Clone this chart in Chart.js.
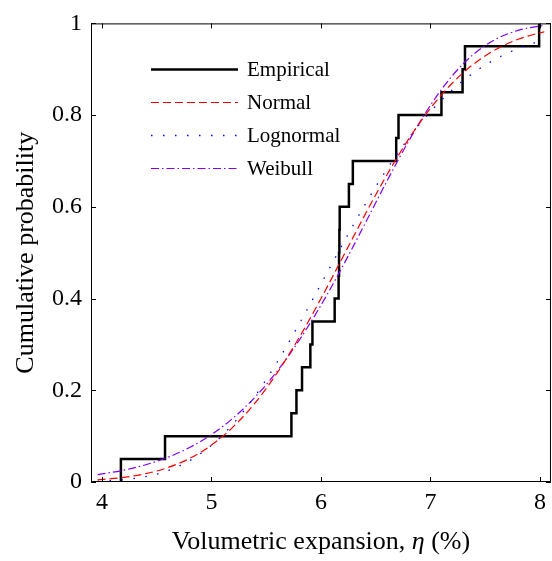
<!DOCTYPE html>
<html>
<head>
<meta charset="utf-8">
<script src="https://cdn.jsdelivr.net/npm/chart.js@4.4.1/dist/chart.umd.min.js"></script>
<style>
  html, body { margin: 0; padding: 0; background: #fff; }
  #wrap { width: 552px; height: 561px; }
</style>
</head>
<body>
<div id="wrap"><canvas id="cdfChart" width="552" height="561"></canvas></div>
<script>
// --- values ---
// empirical CDF: jump positions and the level reached after each jump
const empiricalX = [4.173, 4.173, 4.576, 5.730, 5.776, 5.827, 5.903, 5.922, 6.125, 6.161, 6.165, 6.168, 6.171, 6.255, 6.291, 6.687, 6.708, 7.100, 7.293, 7.315, 7.992];
const empiricalP = [0, 0.05, 0.10, 0.15, 0.20, 0.25, 0.30, 0.35, 0.40, 0.45, 0.50, 0.55, 0.60, 0.65, 0.70, 0.75, 0.80, 0.85, 0.90, 0.95, 1.00];

// fitted curves sampled along x
const fitX = [3.96, 4.2, 4.4, 4.6, 4.8, 5.0, 5.2, 5.4, 5.6, 5.8, 6.0, 6.2, 6.4, 6.6, 6.8, 7.0, 7.2, 7.4, 7.6, 7.8, 8.0, 8.04];
const normalP = [0.0047, 0.0101, 0.0182, 0.0313, 0.0513, 0.0805, 0.1206, 0.1729, 0.2380, 0.3146, 0.4001, 0.4908, 0.5820, 0.6689, 0.7476, 0.8151, 0.8700, 0.9125, 0.9436, 0.9653, 0.9796, 0.9818];
const lognormalP = [0.0014, 0.0049, 0.0117, 0.0245, 0.0465, 0.0802, 0.1274, 0.1883, 0.2615, 0.3442, 0.4317, 0.5195, 0.6041, 0.6815, 0.7496, 0.8076, 0.8552, 0.8934, 0.9229, 0.9453, 0.9617, 0.9645];
const weibullP = [0.0160, 0.0258, 0.0376, 0.0536, 0.0752, 0.1034, 0.1399, 0.1856, 0.2417, 0.3086, 0.3856, 0.4711, 0.5626, 0.6550, 0.7430, 0.8216, 0.8861, 0.9341, 0.9660, 0.9848, 0.9942, 0.9953];

const seriesNames = ['Empirical', 'Normal', 'Lognormal', 'Weibull'];
const xTicks = [4, 5, 6, 7, 8];
const yTicks = [0, 0.2, 0.4, 0.6, 0.8, 1];
const yTickLabels = ['0', '0.2', '0.4', '0.6', '0.8', '1'];
const xTitle = ['Volumetric expansion, ', 'η', ' (%)'];
const yTitle = 'Cumulative probability';

const FONT = '"Liberation Serif", "Times New Roman", serif';
Chart.defaults.font.family = FONT;
Chart.defaults.color = '#000';

function toPoints(xs, ys) { return xs.map((x, i) => ({ x: x, y: ys[i] })); }

// box, inward ticks, legend and axis titles (MATLAB look)
const matlabFrame = {
  id: 'matlabFrame',
  afterDatasetsDraw(chart) {
    const { ctx, chartArea: a, scales: { x, y } } = chart;
    ctx.save();
    ctx.strokeStyle = '#000';
    ctx.lineWidth = 1;
    ctx.setLineDash([]);
    ctx.strokeRect(a.left + 0.5, a.top + 0.5, a.right - a.left - 1, a.bottom - a.top - 1);

    const tl = 5;
    ctx.beginPath();
    xTicks.forEach(v => {
      const px = Math.round(x.getPixelForValue(v)) + 0.5;
      ctx.moveTo(px, a.bottom); ctx.lineTo(px, a.bottom - tl);
      ctx.moveTo(px, a.top); ctx.lineTo(px, a.top + tl);
    });
    yTicks.forEach(v => {
      const py = Math.round(y.getPixelForValue(v)) + 0.5;
      ctx.moveTo(a.left, py); ctx.lineTo(a.left + tl, py);
      ctx.moveTo(a.right, py); ctx.lineTo(a.right - tl, py);
    });
    ctx.stroke();

    // legend
    const rows = [69, 102, 135, 168];
    ctx.font = '21px ' + FONT;
    ctx.textBaseline = 'middle';
    ctx.textAlign = 'left';
    chart.data.datasets.forEach((ds, i) => {
      ctx.save();
      ctx.strokeStyle = ds.borderColor;
      ctx.lineWidth = ds.borderWidth;
      ctx.setLineDash(ds.borderDash || []);
      ctx.beginPath();
      ctx.moveTo(151, rows[i] + 0.5);
      ctx.lineTo(238, rows[i] + 0.5);
      ctx.stroke();
      ctx.restore();
      ctx.fillStyle = '#000';
      ctx.fillText(ds.label, 247, rows[i] + 1);
    });

    // x title with italic eta
    const normalFont = '26px ' + FONT;
    const italicFont = 'italic 26px ' + FONT;
    const fonts = [normalFont, italicFont, normalFont];
    let total = 0;
    const widths = xTitle.map((t, i) => { ctx.font = fonts[i]; const w = ctx.measureText(t).width; total += w; return w; });
    let cx = (a.left + a.right) / 2 - total / 2;
    xTitle.forEach((t, i) => { ctx.font = fonts[i]; ctx.fillText(t, cx, 542); cx += widths[i]; });

    // y title
    ctx.translate(26, (a.top + a.bottom) / 2);
    ctx.rotate(-Math.PI / 2);
    ctx.font = normalFont;
    ctx.textAlign = 'center';
    ctx.fillText(yTitle, 0, 0);
    ctx.restore();
  }
};

new Chart(document.getElementById('cdfChart'), {
  type: 'line',
  data: {
    datasets: [
      { label: seriesNames[0], data: toPoints(empiricalX, empiricalP), stepped: 'before',
        borderColor: '#000000', borderWidth: 2.5, pointRadius: 0, order: 1 },
      { label: seriesNames[1], data: toPoints(fitX, normalP), cubicInterpolationMode: 'monotone',
        borderColor: '#FF0000', borderWidth: 1.2, borderDash: [8, 4], pointRadius: 0, order: 0 },
      { label: seriesNames[2], data: toPoints(fitX, lognormalP), cubicInterpolationMode: 'monotone',
        borderColor: '#0000FF', borderWidth: 1.3, borderDash: [1.5, 10.5], pointRadius: 0, order: 0 },
      { label: seriesNames[3], data: toPoints(fitX, weibullP), cubicInterpolationMode: 'monotone',
        borderColor: '#8000FF', borderWidth: 1.2, borderDash: [8, 3, 1.5, 3], pointRadius: 0, order: 0 }
    ]
  },
  options: {
    responsive: false,
    animation: false,
    devicePixelRatio: 1,
    layout: { padding: { top: 20, right: 0, left: 0, bottom: 0 } },
    plugins: { legend: { display: false }, tooltip: { enabled: false } },
    scales: {
      x: {
        type: 'linear', min: 3.9, max: 8.1,
        grid: { display: false, drawTicks: false }, border: { display: false },
        afterBuildTicks: s => { s.ticks = xTicks.map(v => ({ value: v })); },
        afterFit: s => { s.height = 79; },
        ticks: { autoSkip: false, maxRotation: 0, padding: 6, font: { size: 24 }, color: '#000',
                 callback: v => String(v) }
      },
      y: {
        type: 'linear', min: 0, max: 1,
        grid: { display: false, drawTicks: false }, border: { display: false },
        afterBuildTicks: s => { s.ticks = yTicks.map(v => ({ value: v })); },
        afterFit: s => { s.width = 91; },
        ticks: { autoSkip: false, padding: 9, font: { size: 24 }, color: '#000',
                 callback: (v, i) => yTickLabels[i] }
      }
    }
  },
  plugins: [matlabFrame]
});
</script>
</body>
</html>
